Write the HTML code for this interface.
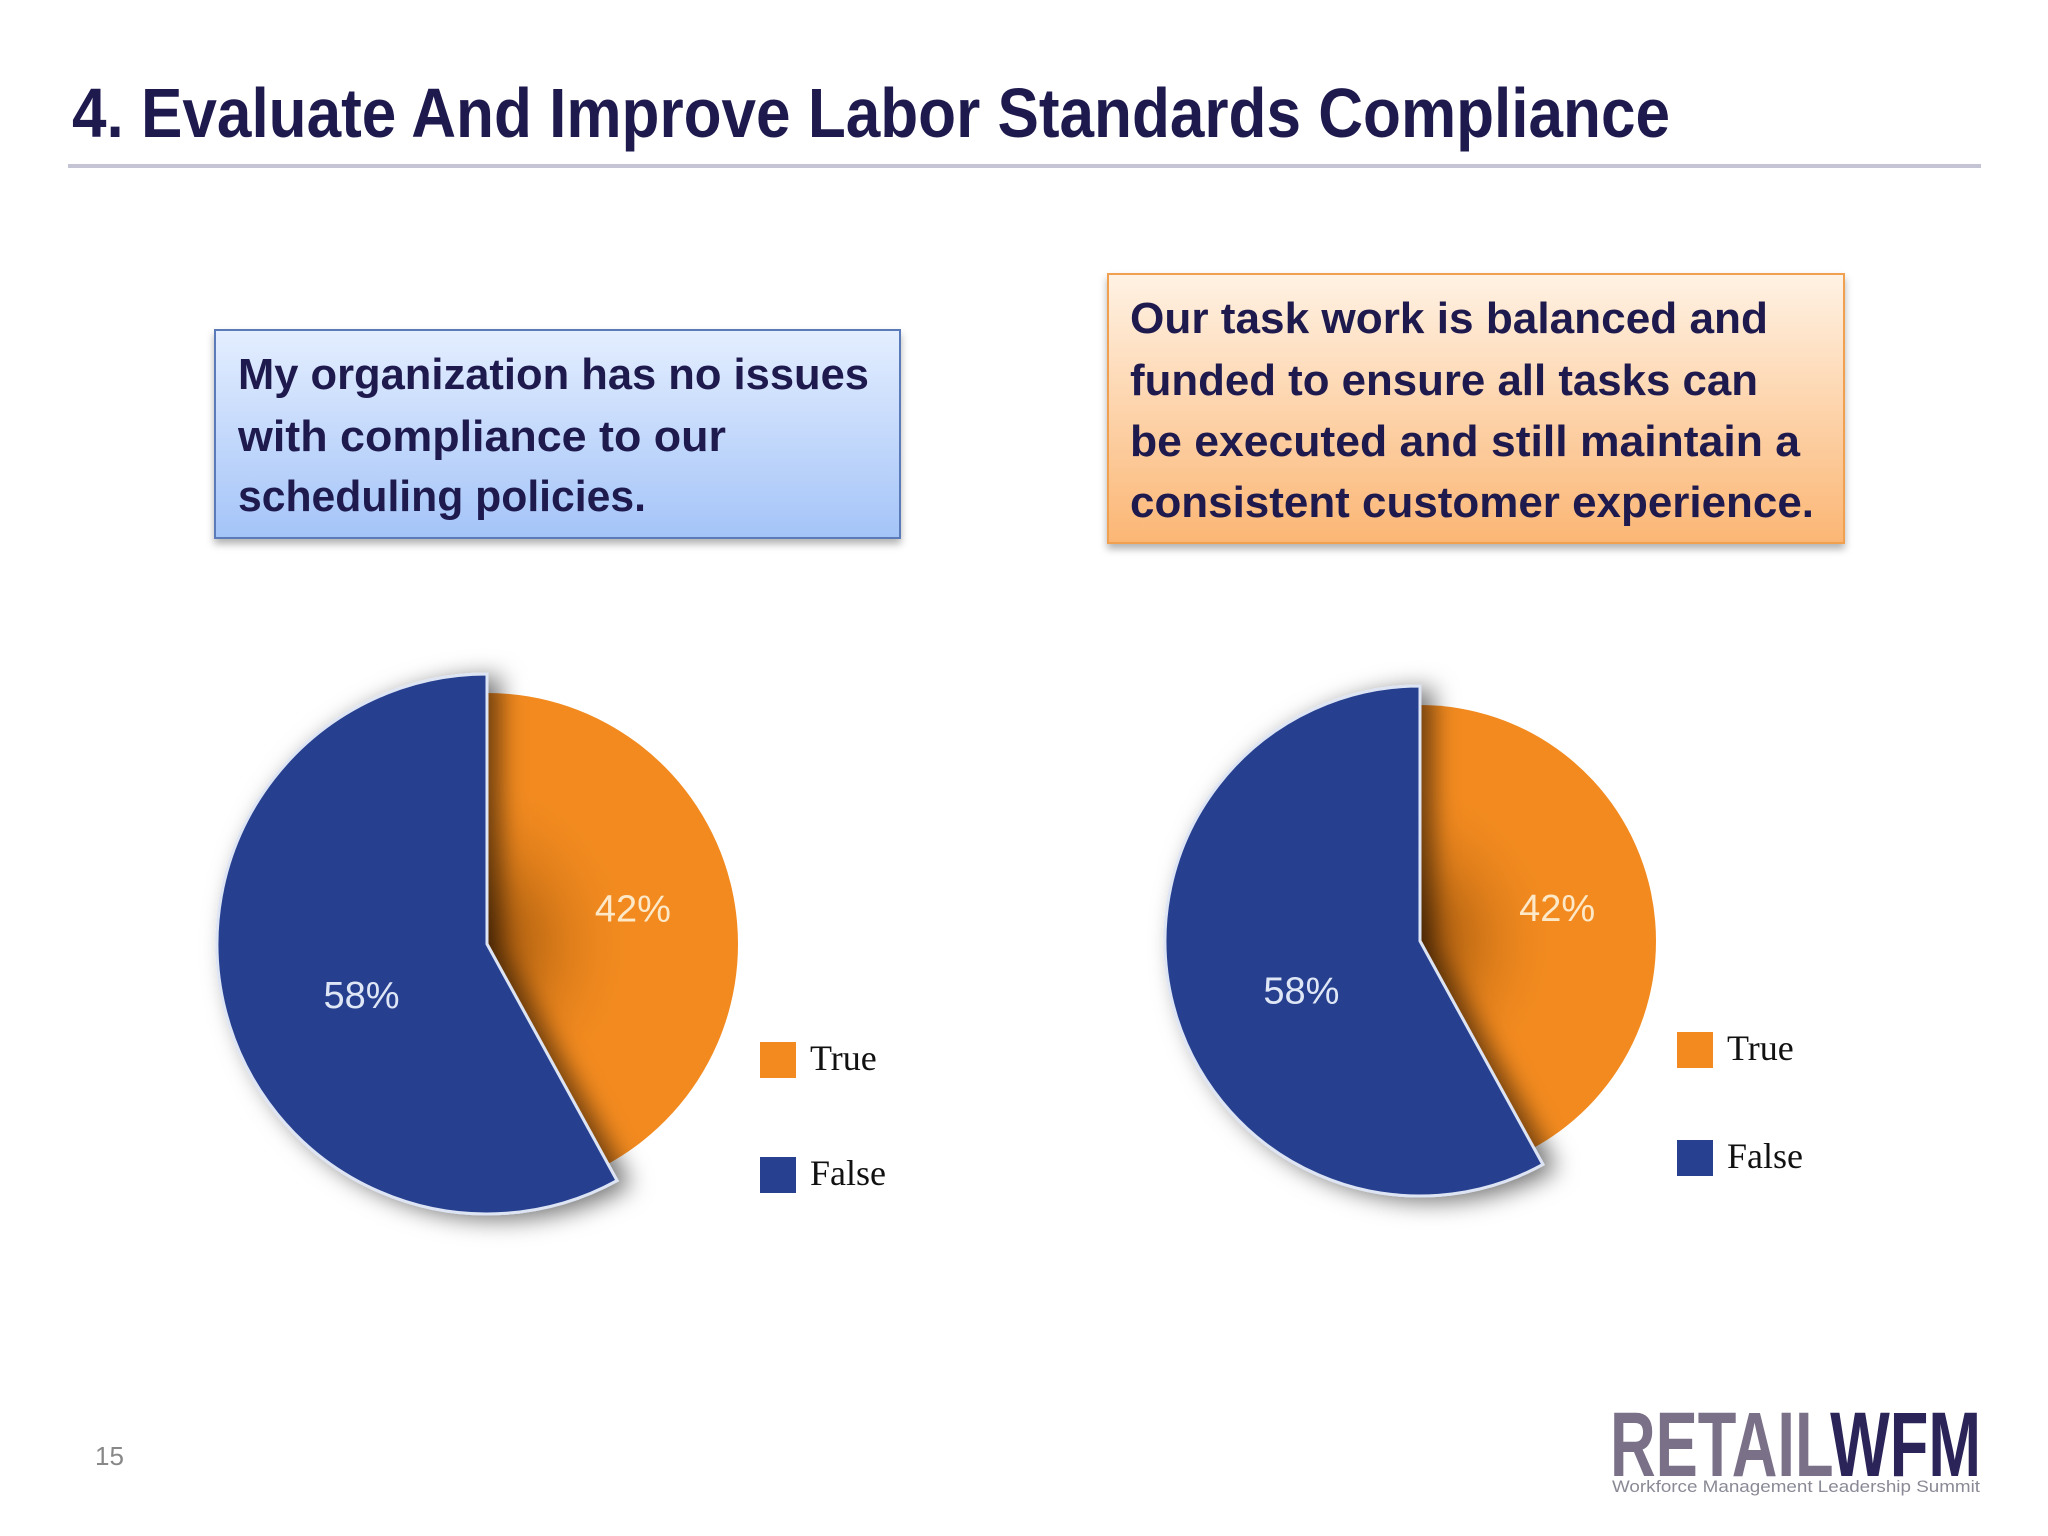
<!DOCTYPE html>
<html><head><meta charset="utf-8"><style>html,body{margin:0;padding:0;background:#fff}svg{display:block}</style></head>
<body>
<svg width="2048" height="1536" viewBox="0 0 2048 1536" xmlns="http://www.w3.org/2000/svg" font-family="Liberation Sans, sans-serif">
<defs>
 <linearGradient id="gBlue" x1="0" y1="0" x2="0" y2="1"><stop offset="0" stop-color="#e4eeff"/><stop offset="1" stop-color="#a4c4f8"/></linearGradient>
 <linearGradient id="gOrange" x1="0" y1="0" x2="0" y2="1"><stop offset="0" stop-color="#fff2e4"/><stop offset="1" stop-color="#fbb674"/></linearGradient>
 <filter id="boxSh" x="-5%" y="-5%" width="110%" height="120%"><feDropShadow dx="0" dy="5" stdDeviation="4" flood-color="#000" flood-opacity="0.3"/></filter>
 <filter id="pieSh" x="-20%" y="-20%" width="140%" height="140%"><feDropShadow dx="12" dy="4" stdDeviation="12" flood-color="#000" flood-opacity="0.55"/></filter>
</defs>
<text x="72" y="137" font-size="70" font-weight="bold" fill="#1e1a4e" textLength="1598" lengthAdjust="spacingAndGlyphs">4. Evaluate And Improve Labor Standards Compliance</text>
<rect x="68" y="164" width="1913" height="4" fill="#c4c4d4"/>

<g>
 <rect x="215" y="330" width="685" height="208" fill="url(#gBlue)" stroke="#5a7ab8" stroke-width="2" filter="url(#boxSh)"/>
 <g font-size="44" font-weight="bold" fill="#1e1a4e">
  <text x="238" y="389" textLength="631" lengthAdjust="spacingAndGlyphs">My organization has no issues</text>
  <text x="238" y="451" textLength="488" lengthAdjust="spacingAndGlyphs">with compliance to our</text>
  <text x="238" y="511" textLength="408" lengthAdjust="spacingAndGlyphs">scheduling policies.</text>
 </g>
</g>
<g>
 <rect x="1108" y="274" width="736" height="269" fill="url(#gOrange)" stroke="#f0a050" stroke-width="2" filter="url(#boxSh)"/>
 <g font-size="44" font-weight="bold" fill="#1e1a4e">
  <text x="1130" y="333" textLength="638" lengthAdjust="spacingAndGlyphs">Our task work is balanced and</text>
  <text x="1130" y="395" textLength="628" lengthAdjust="spacingAndGlyphs">funded to ensure all tasks can</text>
  <text x="1130" y="456" textLength="670" lengthAdjust="spacingAndGlyphs">be executed and still maintain a</text>
  <text x="1130" y="517" textLength="684" lengthAdjust="spacingAndGlyphs">consistent customer experience.</text>
 </g>
</g>

<g id="charts"></g>

<text x="95" y="1465" font-size="26" fill="#888">15</text>
<g>
 <text x="1610" y="1476" font-size="92" font-weight="bold" textLength="371" lengthAdjust="spacingAndGlyphs"><tspan fill="#7a7088">RETAIL</tspan><tspan fill="#2a2458">WFM</tspan></text>
 <text x="1612" y="1492" font-size="17" fill="#8a8a96" textLength="368" lengthAdjust="spacingAndGlyphs">Workforce Management Leadership Summit</text>
</g>
</svg>
<script>
const categories = ["True", "False"];
const chart1Values = [42, 58];
const chart2Values = [42, 58];
const valueLabels1 = ["42%", "58%"];
const valueLabels2 = ["42%", "58%"];
const colors = ["#f28a1f", "#27408f"];

const NS = "http://www.w3.org/2000/svg";
const root = document.getElementById("charts");
function mk(tag, attrs, parent) {
  const e = document.createElementNS(NS, tag);
  for (const k in attrs) e.setAttribute(k, attrs[k]);
  parent.appendChild(e);
  return e;
}
function pt(cx, cy, r, a) { return [cx + r * Math.sin(a), cy - r * Math.cos(a)]; }
function arcPath(cx, cy, r, a0, a1) {
  const p0 = pt(cx, cy, r, a0), p1 = pt(cx, cy, r, a1);
  const large = (a1 - a0) > Math.PI ? 1 : 0;
  return `M${cx},${cy} L${p0[0]},${p0[1]} A${r},${r} 0 ${large} 1 ${p1[0]},${p1[1]} Z`;
}
function drawPie(idx, values, labels, cx, cy, rOuter, rInner, legX, legY, legGap) {
  const g = mk("g", {}, root);
  
  
  const total = values.reduce((a, b) => a + b, 0);
  let a = 0;
  const angles = values.map(v => { const s = a; a += v / total * 2 * Math.PI; return [s, a]; });
  const r = [rInner, rOuter];
  const s0 = mk("path", { d: arcPath(cx, cy, r[0], angles[0][0], angles[0][1]), fill: colors[0] }, g);
  
  
  const gid = "shade" + idx;
  const lg = mk("radialGradient", { id: gid, cx: cx - rOuter * 0.1, cy: cy, r: rInner * 0.7, gradientUnits: "userSpaceOnUse" }, g);
  mk("stop", { offset: "0", "stop-color": "#5a2a00", "stop-opacity": "0.85" }, lg);
  mk("stop", { offset: "0.45", "stop-color": "#8a4a08", "stop-opacity": "0.4" }, lg);
  mk("stop", { offset: "1", "stop-color": "#f28a1f", "stop-opacity": "0" }, lg);
  mk("path", { d: arcPath(cx, cy, r[0], angles[0][0], angles[0][1]), fill: `url(#${gid})` }, g);
  const s1 = mk("path", { d: arcPath(cx, cy, r[1], angles[1][0], angles[1][1]), fill: colors[1], stroke: "#dde4f4", "stroke-width": 3, filter: "url(#pieSh)" }, g);
  
  
  values.forEach((v, i) => {
    const mid = (angles[i][0] + angles[i][1]) / 2;
    const rr = i === 0 ? r[0] * 0.6 : r[1] * 0.48;
    const p = pt(cx, cy, rr, mid);
    const dy = i === 0 ? 15 : 32;
    const t = mk("text", { x: p[0], y: p[1] + dy, "text-anchor": "middle", "font-size": 38, fill: i === 0 ? "#fde8c8" : "#dfe6f6", "font-family": "Liberation Sans Narrow, Liberation Sans, sans-serif" }, g);
    t.textContent = labels[i];
    
    
  });
  categories.forEach((c, i) => {
    const lgp = mk("g", {}, g);
    
    
    const y = legY + i * legGap;
    mk("rect", { x: legX, y: y, width: 36, height: 36, fill: colors[i] }, lgp);
    const t = mk("text", { x: legX + 50, y: y + 28, "font-size": 36, fill: "#111", "font-family": "Liberation Serif, serif" }, lgp);
    t.textContent = c;
  });
}
drawPie(1, chart1Values, valueLabels1, 487, 944, 270, 251, 760, 1042, 115);
drawPie(2, chart2Values, valueLabels2, 1420, 941, 255, 236, 1677, 1032, 108);
</script>
</body></html>
